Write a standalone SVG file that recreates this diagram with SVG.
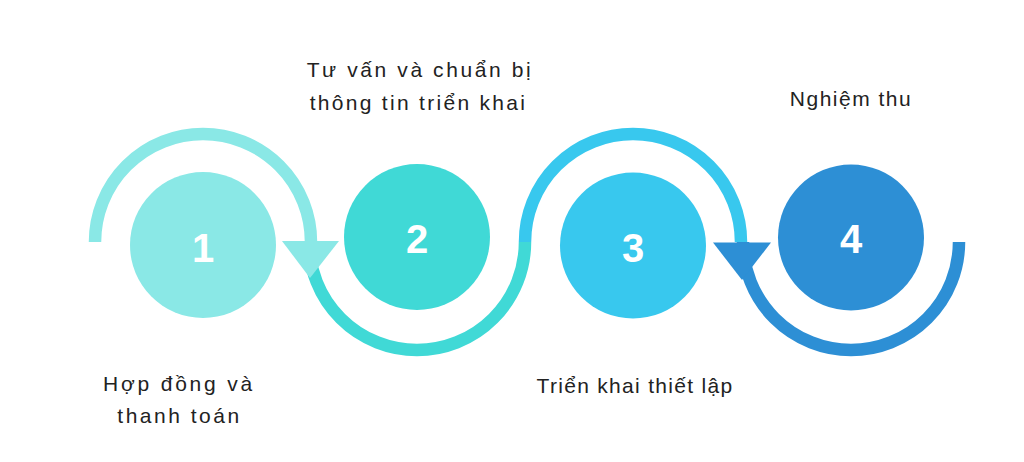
<svg xmlns="http://www.w3.org/2000/svg" width="1024" height="462" viewBox="0 0 1024 462">
<style>
.arc{fill:none;stroke-width:12.5;stroke-linecap:butt}
.num{font-family:"Liberation Sans",Arial,sans-serif;font-weight:bold;font-size:40px;fill:#ffffff;text-anchor:middle}
.lbl{font-family:"Liberation Sans",Arial,sans-serif;font-size:21px;fill:#222222;text-anchor:middle}
</style>
<rect width="1024" height="462" fill="#ffffff"/>
<g id="connectors">
<path class="arc" stroke="#40D9D6" d="M309,242 A108,108 0 0 0 525,242"/>
<path class="arc" stroke="#38C8EE" d="M525,242 A108,108 0 0 1 741,242"/>
<path class="arc" stroke="#2D8FD5" d="M743,242 A108,108 0 0 0 959,242"/>
<path class="arc" stroke="#8AE8E6" d="M95,242 A108,108 0 0 1 311,242"/>
<polygon fill="#8AE8E6" points="282,241 339,241 310,278"/>
<polygon fill="#2D8FD5" points="713,242.5 771,242.5 742,280"/>
</g>
<g id="node1">
<circle cx="203" cy="245" r="73" fill="#8AE8E6"/>
<text class="num" x="203" y="261.5">1</text>
<text class="lbl" x="179" y="391" letter-spacing="2.8">Hợp đồng và</text>
<text class="lbl" x="179.5" y="423" letter-spacing="2.5">thanh toán</text>
</g>
<g id="node2">
<circle cx="417" cy="237" r="73" fill="#40D9D6"/>
<text class="num" x="417" y="252.5">2</text>
<text class="lbl" x="420" y="77" letter-spacing="2.6">Tư vấn và chuẩn bị</text>
<text class="lbl" x="418.5" y="110" letter-spacing="2.3">thông tin triển khai</text>
</g>
<g id="node3">
<circle cx="633" cy="245.5" r="73" fill="#38C8EE"/>
<text class="num" x="633" y="261.5">3</text>
<text class="lbl" x="635" y="393" letter-spacing="1.3">Triển khai thiết lập</text>
</g>
<g id="node4">
<circle cx="851" cy="237.5" r="73" fill="#2D8FD5"/>
<text class="num" x="851" y="252.5">4</text>
<text class="lbl" x="851" y="106" letter-spacing="1.5">Nghiệm thu</text>
</g>
</svg>
